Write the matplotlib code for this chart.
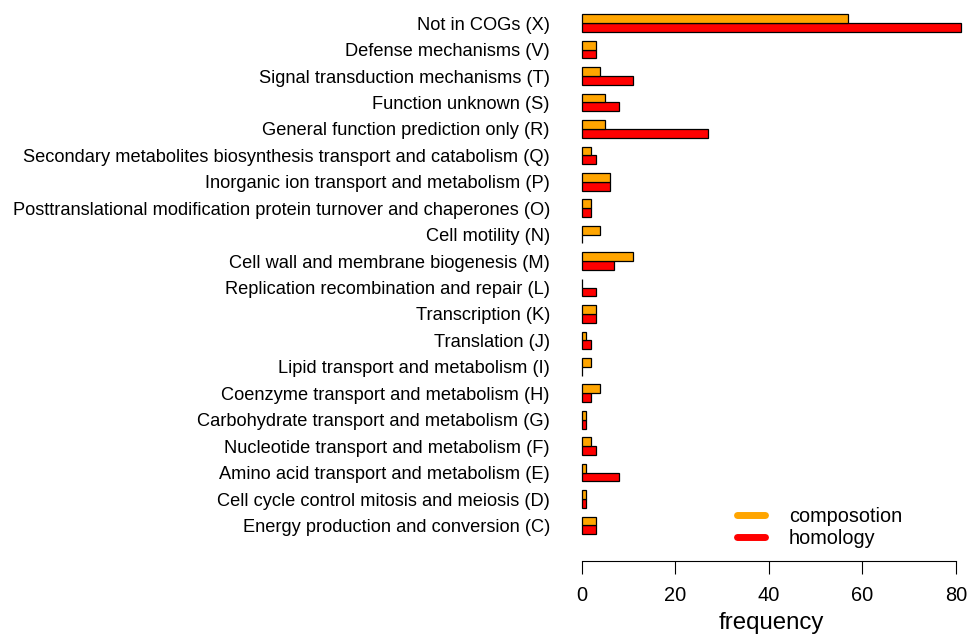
#!/usr/bin/python
# -*- coding: utf-8 -*-
# COG functional categories: composition vs homology based gene counts

import numpy as np
import matplotlib
matplotlib.use('Agg')
import matplotlib.pyplot as plt
from matplotlib.lines import Line2D

plt.rcParams['font.family'] = ['Liberation Sans', 'DejaVu Sans']

### categories listed top to bottom as they appear on the chart
categories = [
	'Not in COGs (X)',
	'Defense mechanisms (V)',
	'Signal transduction mechanisms (T)',
	'Function unknown (S)',
	'General function prediction only (R)',
	'Secondary metabolites biosynthesis transport and catabolism (Q)',
	'Inorganic ion transport and metabolism (P)',
	'Posttranslational modification protein turnover and chaperones (O)',
	'Cell motility (N)',
	'Cell wall and membrane biogenesis (M)',
	'Replication recombination and repair (L)',
	'Transcription (K)',
	'Translation (J)',
	'Lipid transport and metabolism (I)',
	'Coenzyme transport and metabolism (H)',
	'Carbohydrate transport and metabolism (G)',
	'Nucleotide transport and metabolism (F)',
	'Amino acid transport and metabolism (E)',
	'Cell cycle control mitosis and meiosis (D)',
	'Energy production and conversion (C)',
]
composition = [57, 3, 4, 5, 5, 2, 6, 2, 4, 11, 0, 3, 1, 2, 4, 1, 2, 1, 1, 3]
homology = [81, 3, 11, 8, 27, 3, 6, 2, 0, 7, 3, 3, 2, 0, 2, 1, 3, 8, 1, 3]
series_names = ['composotion', 'homology']
x_ticks = [0, 20, 40, 60, 80]

def plot_cogs():
	# bottom-up order, one unit gap then two bars per group (R style space=c(0,1))
	labels = categories[::-1]
	comp = np.array(composition[::-1])
	homo = np.array(homology[::-1])
	base = np.arange(len(labels)) * 3

	fig = plt.figure(figsize=(9.78, 6.34), dpi=100)
	ax = fig.add_axes([566.5 / 978, 1 - 560.7 / 634, 409.3 / 978, 559.6 / 634])

	ax.barh(base + 1, homo, height=1, align='edge', color='#FF0000',
		edgecolor='black', linewidth=0.9)
	ax.barh(base + 2, comp, height=1, align='edge', color='#FFA500',
		edgecolor='black', linewidth=0.9)

	ax.set_xlim(-3.24, 84.24)
	ax.set_ylim(-2.0, 61.5)

	ax.set_yticks(base + 2)
	ax.set_yticklabels(labels, fontsize=13.15)
	ax.tick_params(axis='y', length=0, pad=11.9)

	ax.set_xticks(x_ticks)
	ax.set_xticklabels([str(t) for t in x_ticks], fontsize=14.4)
	ax.tick_params(axis='x', length=9, width=0.8, pad=9.5)
	ax.set_xlabel('frequency', fontsize=17.3, labelpad=5)

	for side in ['left', 'top', 'right']:
		ax.spines[side].set_visible(False)
	ax.spines['bottom'].set_bounds(0, 80)
	ax.spines['bottom'].set_linewidth(0.8)

	handles = [
		Line2D([], [], color='#FFA500', linewidth=5, solid_capstyle='round'),
		Line2D([], [], color='#FF0000', linewidth=5, solid_capstyle='round'),
	]
	fig.legend(handles, series_names, loc='upper left',
		bbox_to_anchor=(737 / 978, 1 - 507 / 634), frameon=False,
		fontsize=14.3, handlelength=1.4, handletextpad=1.2,
		labelspacing=0.15, borderpad=0, borderaxespad=0)

	fig.savefig('out.png', dpi=100)

if __name__ == '__main__':
	plot_cogs()
